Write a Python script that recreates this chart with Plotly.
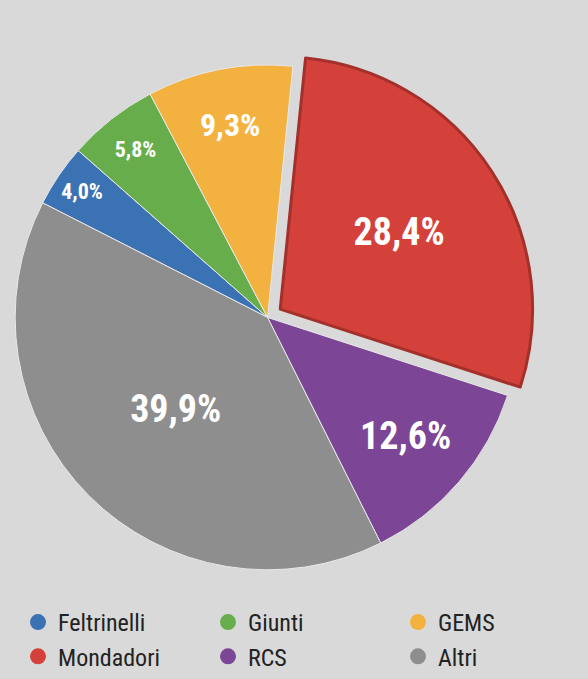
import plotly.graph_objects as go

labels = ["Feltrinelli", "Giunti", "GEMS", "Mondadori", "RCS", "Altri"]
values = [4.0, 5.8, 9.3, 28.4, 12.6, 39.9]
text_labels = ["4,0%", "5,8%", "9,3%", "28,4%", "12,6%", "39,9%"]
colors = ["#3b72b4", "#67ad4b", "#f3b13f", "#d4413b", "#7c4595", "#8e8e8e"]
pulls = [0, 0, 0, 0.06, 0, 0]
text_sizes = [22, 22, 32, 38, 38, 38]
line_colors = ["#e8e8e8", "#e8e8e8", "#e8e8e8", "#a3302b", "#e8e8e8", "#e8e8e8"]
line_widths = [1, 1, 1, 3, 1, 1]

FONT = "Liberation Sans Narrow, Roboto Condensed, DejaVu Sans Condensed, DejaVu Sans, sans-serif"

fig = go.Figure()
fig.add_trace(go.Pie(
    labels=labels,
    values=values,
    text=text_labels,
    textinfo="text",
    textposition="inside",
    insidetextorientation="horizontal",
    textfont=dict(family=FONT, size=text_sizes, color="white", weight="bold"),
    marker=dict(colors=colors, line=dict(color=line_colors, width=line_widths)),
    pull=pulls,
    sort=False,
    direction="clockwise",
    rotation=-63,
    showlegend=False,
    hoverinfo="label+percent",
    domain=dict(x=[0.0, 0.91], y=[0.13, 0.935]),
))

# legend entries with circular markers
for lab, col in zip(labels, colors):
    fig.add_trace(go.Scatter(
        x=[None], y=[None], mode="markers", name=lab,
        marker=dict(symbol="circle", size=22, color=col),
        showlegend=True,
    ))

fig.update_layout(
    width=588, height=679,
    margin=dict(l=0, r=0, t=0, b=0),
    paper_bgcolor="#d9d9d9",
    plot_bgcolor="rgba(0,0,0,0)",
    xaxis=dict(visible=False),
    yaxis=dict(visible=False),
    legend=dict(
        orientation="h",
        x=0.035, y=0.0, xanchor="left", yanchor="bottom",
        font=dict(family=FONT, size=24, color="#222222"),
        entrywidth=145, entrywidthmode="pixels",
        itemsizing="trace",
        bgcolor="rgba(0,0,0,0)",
        tracegroupgap=0,
    ),
)

fig.write_html("out.html", config={"displayModeBar": False},
               post_script="document.body.style.margin='0';")
